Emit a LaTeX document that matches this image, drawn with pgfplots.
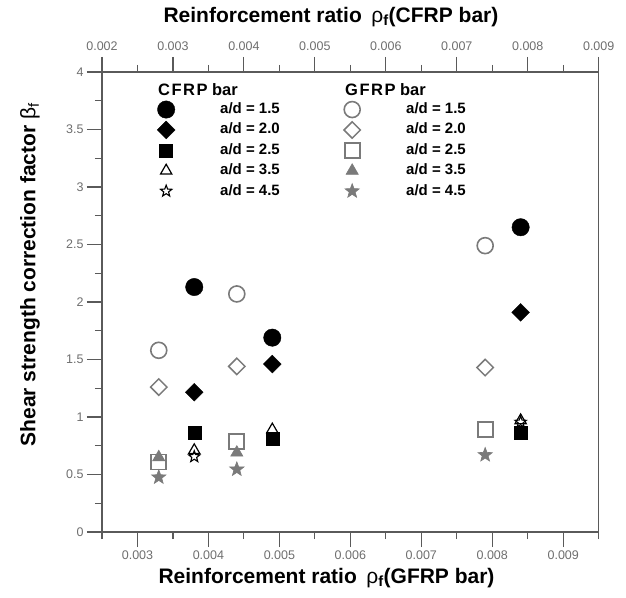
\documentclass[border=0pt]{standalone}
\usepackage{fontspec}
\setmainfont{Liberation Sans}
\usepackage{pgfplots}
\pgfplotsset{compat=1.18}
\usetikzlibrary{plotmarks}
\definecolor{axgray}{HTML}{5A5A5A}
\definecolor{mgray}{HTML}{7A7A7A}
\definecolor{tgray}{HTML}{6E6E6E}

\pgfdeclareplotmark{ostar}{%
  \pgfpathmoveto{\pgfpointpolar{90}{\pgfplotmarksize}}%
  \pgfpathlineto{\pgfpointpolar{126}{0.42\pgfplotmarksize}}%
  \pgfpathlineto{\pgfpointpolar{162}{\pgfplotmarksize}}%
  \pgfpathlineto{\pgfpointpolar{198}{0.42\pgfplotmarksize}}%
  \pgfpathlineto{\pgfpointpolar{234}{\pgfplotmarksize}}%
  \pgfpathlineto{\pgfpointpolar{270}{0.42\pgfplotmarksize}}%
  \pgfpathlineto{\pgfpointpolar{306}{\pgfplotmarksize}}%
  \pgfpathlineto{\pgfpointpolar{342}{0.42\pgfplotmarksize}}%
  \pgfpathlineto{\pgfpointpolar{18}{\pgfplotmarksize}}%
  \pgfpathlineto{\pgfpointpolar{54}{0.42\pgfplotmarksize}}%
  \pgfpathclose
  \pgfusepathqstroke}
\pgfdeclareplotmark{fstar}{%
  \pgfpathmoveto{\pgfpointpolar{90}{\pgfplotmarksize}}%
  \pgfpathlineto{\pgfpointpolar{126}{0.42\pgfplotmarksize}}%
  \pgfpathlineto{\pgfpointpolar{162}{\pgfplotmarksize}}%
  \pgfpathlineto{\pgfpointpolar{198}{0.42\pgfplotmarksize}}%
  \pgfpathlineto{\pgfpointpolar{234}{\pgfplotmarksize}}%
  \pgfpathlineto{\pgfpointpolar{270}{0.42\pgfplotmarksize}}%
  \pgfpathlineto{\pgfpointpolar{306}{\pgfplotmarksize}}%
  \pgfpathlineto{\pgfpointpolar{342}{0.42\pgfplotmarksize}}%
  \pgfpathlineto{\pgfpointpolar{18}{\pgfplotmarksize}}%
  \pgfpathlineto{\pgfpointpolar{54}{0.42\pgfplotmarksize}}%
  \pgfpathclose
  \pgfusepathqfillstroke}

\pgfplotsset{
  base/.style={
    scale only axis, width=496.7pt, height=460pt, ymin=0, ymax=4,
    axis line style={axgray, line width=1.1pt},
    every tick/.style={axgray, line width=1.1pt},
    tick align=outside, major tick length=15pt, minor tick length=7pt,
    /pgf/number format/assume math mode=true,
    tick label style={font=\fontsize{12.5}{14}\selectfont, text=tgray},
    label style={font=\fontsize{21}{24}\selectfont\bfseries},
    scaled x ticks=false,
    clip=false,
    legend cell align=left,
    legend style={draw=none, fill=none, inner sep=0pt, anchor=north west,
      font=\fontsize{15}{17}\selectfont\bfseries, row sep=6.4pt, column sep=0pt,
      nodes={inner sep=0pt, text height=11pt, text depth=3pt}},
  },
  lg/.style={only marks, legend image code/.code={
      \pgfpathrectangle{\pgfpoint{-8pt}{-7pt}}{\pgfpoint{62pt}{14pt}}%
      \pgfusepath{use as bounding box}%
      \begin{pgfinterruptboundingbox}
      \draw[mark repeat=2,mark phase=2,##1] plot coordinates {(-5pt,0pt)(0pt,0pt)(5pt,0pt)};
      \end{pgfinterruptboundingbox}
  }},
}

\begin{document}
\begin{tikzpicture}
% bottom axis: GFRP bar
\begin{axis}[base,
  xmin=0.0025, xmax=0.0095,
  xtick={0.003,0.004,0.005,0.006,0.007,0.008,0.009},
  xticklabels={0.003,0.004,0.005,0.006,0.007,0.008,0.009},
  minor xtick={0.0025,0.0035,0.0045,0.0055,0.0065,0.0075,0.0085,0.0095},
  ytick={0,0.5,1,1.5,2,2.5,3,3.5,4},
  yticklabels={0,0.5,1,1.5,2,2.5,3,3.5,4},
  minor ytick={0.25,0.75,1.25,1.75,2.25,2.75,3.25,3.75},
  xtick pos=left, ytick pos=left,
  xlabel={Reinforcement ratio\hspace{0.45em}{\mdseries ρ}\textsubscript{f}(GFRP bar)},
  ylabel={Shear strength correction factor\hspace{0.3em}{\mdseries β}\textsubscript{\mdseries f}},
  x label style={at={(axis description cs:0.452,-0.1)}, anchor=center},
  y label style={at={(axis description cs:-0.145,0.56)}, anchor=center, rotate=0},
  legend style={at={(0.4872,0.934)}},
]
\addplot[lg, mgray, mark=o, mark size=8pt, mark options={line width=1.6pt}]
  coordinates {(0.0033,1.58) (0.0044,2.07) (0.0079,2.49)};
\addlegendentry{a/d = 1.5}
\addplot[lg, mgray, mark=square, mark size=5.8pt, mark options={rotate=45, line width=1.5pt}]
  coordinates {(0.0033,1.26) (0.0044,1.44) (0.0079,1.43)};
\addlegendentry{a/d = 2.0}
\addplot[lg, mgray, mark=square, mark size=7.5pt, mark options={line width=1.7pt}]
  coordinates {(0.0033,0.61) (0.0044,0.785) (0.0079,0.89)};
\addlegendentry{a/d = 2.5}
\addplot[lg, mgray, mark=triangle*, mark size=7pt, mark options={line width=0.6pt}]
  coordinates {(0.0033,0.65) (0.0044,0.69)};
\addlegendentry{a/d = 3.5}
\addplot[lg, mgray, mark=fstar, mark size=7.5pt, mark options={line width=0.6pt}]
  coordinates {(0.0033,0.476) (0.0044,0.545) (0.0079,0.67)};
\addlegendentry{a/d = 4.5}
\node[anchor=west, font=\fontsize{16.5}{18}\selectfont\bfseries, inner sep=0pt]
  at (axis description cs:0.4893,0.961) {G\kern1.5pt F\kern1.5pt R\kern1.5pt P bar};
\end{axis}
% top axis: CFRP bar
\begin{axis}[base,
  xmin=0.002, xmax=0.009,
  axis x line*=top, hide y axis,
  xtick={0.002,0.003,0.004,0.005,0.006,0.007,0.008,0.009},
  xticklabels={0.002,0.003,0.004,0.005,0.006,0.007,0.008,0.009},
  minor xtick={0.0025,0.0035,0.0045,0.0055,0.0065,0.0075,0.0085},
  xticklabel style={yshift=3pt},
  xlabel={Reinforcement ratio\hspace{0.45em}{\mdseries ρ}\textsubscript{f}(CFRP bar)},
  x label style={at={(axis description cs:0.461,1.12)}, anchor=center},
  legend style={at={(0.1127,0.934)}},
]
\addplot[lg, black, mark=*, mark size=8.7pt]
  coordinates {(0.0033,2.13) (0.0044,1.69) (0.0079,2.65)};
\addlegendentry{a/d = 1.5}
\addplot[lg, black, mark=square*, mark size=6.3pt, mark options={rotate=45}]
  coordinates {(0.0033,1.215) (0.0044,1.46) (0.0079,1.91)};
\addlegendentry{a/d = 2.0}
\addplot[lg, black, mark=square*, mark size=6.5pt]
  coordinates {(0.0033,0.86) (0.0044,0.81) (0.0079,0.86)};
\addlegendentry{a/d = 2.5}
\addplot[lg, black, mark=triangle, mark size=6.5pt, mark options={line width=1.2pt}]
  coordinates {(0.0033,0.71) (0.0044,0.89) (0.0079,0.97)};
\addlegendentry{a/d = 3.5}
\addplot[lg, black, mark=ostar, mark size=6pt, mark options={line width=1.1pt}]
  coordinates {(0.0033,0.655) (0.0079,0.955)};
\addlegendentry{a/d = 4.5}
\node[anchor=west, font=\fontsize{16.5}{18}\selectfont\bfseries, inner sep=0pt]
  at (axis description cs:0.1127,0.961) {C\kern1.5pt F\kern1.5pt R\kern1.5pt P bar};
\end{axis}
\pgfresetboundingbox
\useasboundingbox (-102pt,-65pt) rectangle (524pt,532pt);
\end{tikzpicture}
\end{document}
